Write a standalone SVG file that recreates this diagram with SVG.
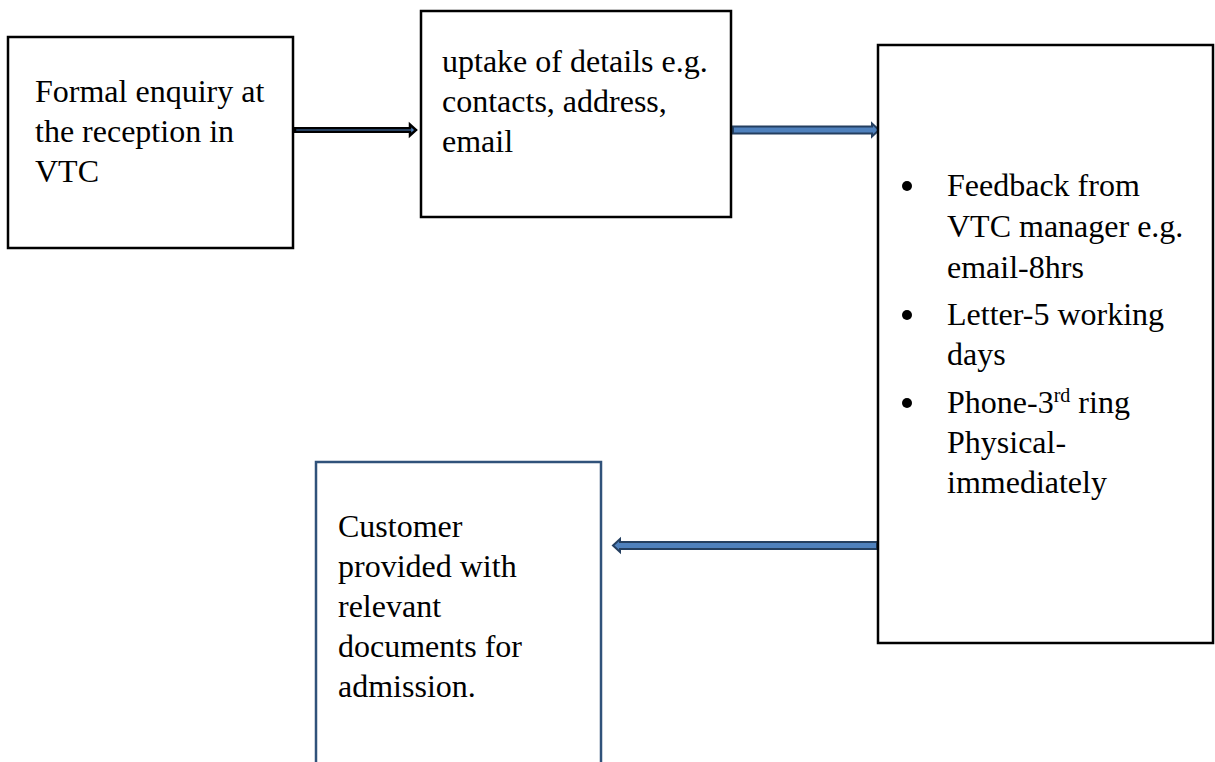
<svg xmlns="http://www.w3.org/2000/svg" width="1215" height="762" viewBox="0 0 1215 762">
<style>
.box{fill:#fff;stroke:#000;stroke-width:2.5}
.box4{fill:#fff;stroke:#30527A;stroke-width:2.5}
.t{font-family:"Liberation Serif","Times New Roman",serif;font-size:32px;fill:#000}
.arr{fill:#4F81BD;stroke:#243F60;stroke-width:2;stroke-linejoin:miter}
.arr1{fill:#4F81BD;stroke:#000;stroke-width:2.5;stroke-linejoin:miter}
.bul{fill:#000}
</style>
<rect width="1215" height="762" fill="#fff"/>
<g id="connectors">
<polygon class="arr1" points="295,128.3 410,128.3 410,124.5 416,130 410,135.5 410,131.7 295,131.7"/>
<polygon class="arr" points="733,126.5 872,126.5 872,123.5 879,130 872,136.5 872,133.5 733,133.5"/>
<polygon class="arr" points="877,542 620,542 620,539 613,545.5 620,552 620,549 877,549"/>
</g>
<g id="node1">
<rect class="box" x="8" y="37" width="285" height="211"/>
<text class="t" x="35" y="102">Formal enquiry at</text>
<text class="t" x="35" y="142">the reception in</text>
<text class="t" x="35" y="182">VTC</text>
</g>
<g id="node2">
<rect class="box" x="421" y="11" width="310" height="206"/>
<text class="t" x="442" y="72">uptake of details e.g.</text>
<text class="t" x="442" y="112">contacts, address,</text>
<text class="t" x="442" y="152">email</text>
</g>
<g id="node3">
<rect class="box" x="878" y="45" width="335" height="598"/>
<circle class="bul" cx="907" cy="186" r="5"/>
<text class="t" x="947" y="196">Feedback from</text>
<text class="t" x="947" y="237">VTC manager e.g.</text>
<text class="t" x="947" y="278">email-8hrs</text>
<circle class="bul" cx="907" cy="315" r="5"/>
<text class="t" x="947" y="325">Letter-5 working</text>
<text class="t" x="947" y="365">days</text>
<circle class="bul" cx="907" cy="403" r="5"/>
<text class="t" x="947" y="413">Phone-3<tspan font-size="20px" dy="-11">rd</tspan><tspan dy="11"> ring</tspan></text>
<text class="t" x="947" y="453">Physical-</text>
<text class="t" x="947" y="493">immediately</text>
</g>
<g id="node4">
<path class="box4" d="M316,765 L316,462 L601,462 L601,765"/>
<text class="t" x="338" y="537">Customer</text>
<text class="t" x="338" y="577">provided with</text>
<text class="t" x="338" y="617">relevant</text>
<text class="t" x="338" y="657">documents for</text>
<text class="t" x="338" y="697">admission.</text>
</g>
</svg>
